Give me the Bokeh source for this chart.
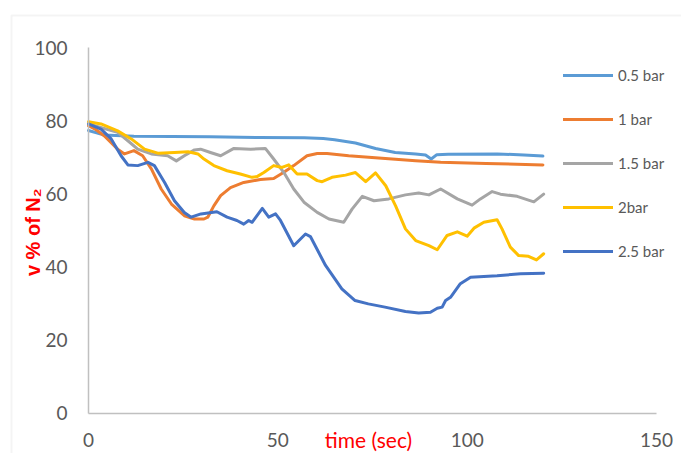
import math
from bokeh.plotting import figure
from bokeh.models import Legend, LegendItem, Label, FixedTicker, BoxAnnotation
from bokeh.embed import file_html
from bokeh.resources import INLINE

series_names = ["0.5 bar", "1 bar", "1.5 bar", "2bar", "2.5 bar"]
series_colors = ["#5B9BD5", "#ED7D31", "#A5A5A5", "#FFC000", "#4472C4"]

t_05 = [0, 4, 12, 32, 45, 57, 62, 65, 70.5, 75.8, 81, 86.4, 89, 90.5, 92, 95, 108, 115, 120]
v_05 = [77.3, 76.1, 75.7, 75.6, 75.4, 75.3, 75.1, 74.8, 73.9, 72.4, 71.3, 70.9, 70.6, 69.5, 70.7, 70.8, 70.9, 70.6, 70.3]

t_1 = [0, 2, 4.2, 7.7, 9.5, 12, 14.3, 16.6, 19.2, 21.9, 25.3, 28, 30.5, 31.5, 33.1, 34.9, 37.5, 41, 45.4,
       48.9, 51.6, 54.2, 57.7, 60.4, 63, 68.7, 77.5, 86.4, 93, 105, 120]
v_1 = [78.6, 77.5, 75.8, 72.2, 70.9, 71.8, 70.4, 66.8, 61.3, 57.2, 54.0, 53.1, 53.1, 53.6, 56.7, 59.5, 61.7, 63.1, 63.9,
       64.2, 65.9, 67.7, 70.4, 71.0, 71.0, 70.4, 69.7, 69.0, 68.6, 68.3, 67.9]

t_15 = [0, 3, 7.7, 10.4, 13, 16.6, 20.9, 23.2, 25.3, 28, 29.6, 32.2, 34.9, 38.4, 42.8, 46.7, 48.9, 51.6, 54.2,
        56.9, 60.4, 63.5, 67.4, 69.6, 72.3, 75.4, 79.3, 83.7, 87.2, 89.9, 93, 97.4, 101.3, 103.5, 106.6, 108.8,
        113.2, 117.6, 120.2]
v_15 = [79.1, 78.2, 76.8, 74.5, 72.2, 70.9, 70.4, 69.0, 70.4, 72.0, 72.2, 71.3, 70.4, 72.4, 72.2, 72.4, 69.5, 65.8, 61.3,
        57.7, 54.9, 53.1, 52.2, 55.8, 59.3, 58.1, 58.6, 59.7, 60.2, 59.7, 61.3, 58.6, 56.9, 58.6, 60.6, 59.9,
        59.3, 57.8, 59.9]

t_2 = [0, 3.3, 7.7, 11.3, 14.8, 18.3, 22.7, 26.3, 28.9, 30.5, 33.1, 36.6, 40.1, 43.2, 44.5, 46.3, 48.9, 51.1,
       52.9, 55.1, 57.7, 60.4, 61.7, 64.3, 67.9, 70.5, 73.2, 75.8, 78.5, 81.1, 83.7, 86.4, 89.9, 92.1, 94.7,
       97.4, 100, 101.8, 104.4, 107.9, 109.2, 111.4, 113.6, 116.2, 118.3, 120.2]
v_2 = [79.7, 79.1, 77.2, 75.0, 72.2, 71.1, 71.3, 71.5, 70.9, 69.5, 67.7, 66.3, 65.4, 64.5, 64.7, 65.8, 67.7, 67.2,
       67.9, 65.4, 65.4, 63.6, 63.3, 64.5, 65.1, 65.8, 63.3, 65.7, 62.2, 56.7, 50.4, 47.2, 45.8, 44.7, 48.6,
       49.6, 48.4, 50.6, 52.2, 52.9, 50.4, 45.4, 43.1, 42.9, 41.9, 43.6]

t_25 = [0, 3.3, 6, 8.6, 10.4, 13, 15.7, 17.4, 20.1, 22.7, 25.3, 27.1, 29.7, 33.9, 36.6, 39.2, 41, 42.3, 43.2,
        45.9, 47.6, 49.4, 50.7, 54.2, 57.3, 58.6, 62.6, 66.9, 70.4, 73.9, 78.3, 83.7, 87.2, 90.3, 92.1, 93.4,
        94.3, 95.6, 98.2, 100.9, 107.9, 114.1, 120.2]
v_25 = [79.1, 77.7, 75.0, 70.4, 67.9, 67.7, 68.6, 67.7, 63.1, 58.1, 54.9, 53.6, 54.5, 55.1, 53.6, 52.7, 51.7, 52.7, 52.2,
        56.0, 53.6, 54.5, 52.7, 45.8, 49.0, 48.3, 40.4, 34.0, 30.8, 29.9, 29.0, 27.8, 27.4, 27.6, 28.7, 29.0,
        30.8, 31.7, 35.4, 37.2, 37.6, 38.1, 38.3]

x_ticks = [0, 50, 100, 150]
y_ticks = [0, 20, 40, 60, 80, 100]
x_bounds = (0, 150)
y_bounds = (0, 100)

times = [t_05, t_1, t_15, t_2, t_25]
values = [v_05, v_1, v_15, v_2, v_25]

# ---- layout (canvas pixels) ----
W, H = 681, 453
AX_LEFT, AX_RIGHT = 88.0, 656.0     # pixel of x=0 and x=150
AX_BOTTOM, AX_TOP = 412.7, 47.0     # pixel of y=0 and y=100
sx = (AX_RIGHT - AX_LEFT) / (x_bounds[1] - x_bounds[0])
sy = (AX_BOTTOM - AX_TOP) / (y_bounds[1] - y_bounds[0])
x_range = (x_bounds[0] - AX_LEFT / sx, x_bounds[0] + (W - AX_LEFT) / sx)
y_range = (y_bounds[0] - (H - AX_BOTTOM) / sy, y_bounds[0] + AX_BOTTOM / sy)

p = figure(width=W, height=H, x_range=x_range, y_range=y_range,
           output_backend="svg", toolbar_location=None,
           min_border_left=0, min_border_top=0, min_border_right=0, min_border_bottom=0)
p.outline_line_color = None
p.background_fill_color = "white"
p.border_fill_color = "white"
p.xgrid.visible = False
p.ygrid.visible = False

TICK_FONT = "Lato"
for ax in (p.xaxis[0], p.yaxis[0]):
    ax.axis_line_color = "#c0c0c0"
    ax.axis_line_width = 1.5
    ax.major_tick_line_color = None
    ax.minor_tick_line_color = None
    ax.major_tick_out = 0
    ax.major_tick_in = 0
    ax.major_label_text_font = TICK_FONT
    ax.major_label_text_font_size = "19px"
    ax.major_label_text_color = "#595959"
    ax.fixed_location = 0

p.xaxis[0].ticker = FixedTicker(ticks=x_ticks)
p.yaxis[0].ticker = FixedTicker(ticks=y_ticks)
p.xaxis[0].bounds = x_bounds
p.yaxis[0].bounds = y_bounds
p.xaxis[0].major_label_standoff = 20
p.yaxis[0].major_label_standoff = 21

frame_box = BoxAnnotation(left=11, right=W + 40, top=15, bottom=H + 40,
                          left_units="canvas", right_units="canvas",
                          top_units="canvas", bottom_units="canvas",
                          fill_alpha=0, line_color="#d9d9d9", line_width=2)
p.add_layout(frame_box)

items = []
for name, color, t, v in zip(series_names, series_colors, times, values):
    r = p.line(t, v, line_color=color, line_width=3, line_join="round", line_cap="round")
    items.append(LegendItem(label=name, renderers=[r]))

legend = Legend(items=items, location=(563, H - 261), orientation="vertical",
                glyph_width=50, glyph_height=20, label_height=20, label_standoff=5,
                spacing=24, padding=0, margin=0,
                border_line_color=None, background_fill_alpha=0,
                label_text_font=TICK_FONT, label_text_font_size="15px",
                label_text_color="#595959")
p.add_layout(legend)

ylab = Label(x=32.6, y=H - 231.7, x_units="screen", y_units="screen", text="v % of N\u2082",
             angle=math.pi / 2, text_align="center", text_baseline="middle",
             text_color="#FF0000", text_font="Liberation Sans", text_font_style="bold",
             text_font_size="20px")
xlab = Label(x=368, y=H - 439, x_units="screen", y_units="screen", text="time (sec)",
             text_align="center", text_baseline="middle",
             text_color="#FF0000", text_font=TICK_FONT, text_font_size="21px")
p.add_layout(ylab)
p.add_layout(xlab)

open("out.html", "w").write(file_html(p, INLINE))
